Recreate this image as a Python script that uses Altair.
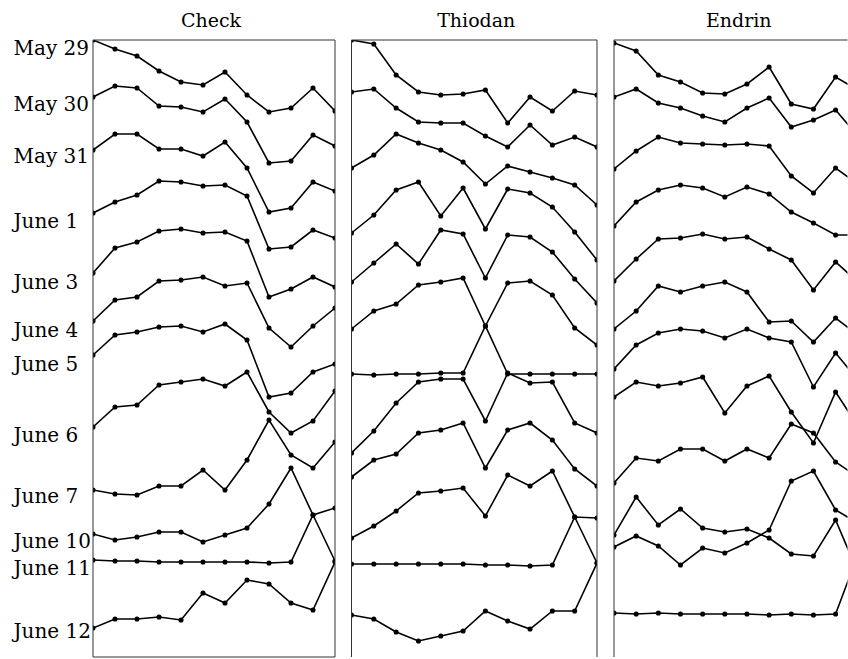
import json
import altair as alt
import pandas as pd

# ---- data (vertical level, larger = lower on the page) ----
DATES = ["May 29", "May 30", "May 31", "June 1", "June 3", "June 4",
         "June 5", "June 6", "June 7", "June 10", "June 11", "June 12"]
LABEL_POS = [40, 96, 148, 213, 274, 322, 356, 427, 488, 533, 560, 623]
PANELS = ["Check", "Thiodan", "Endrin"]
STEPS = list(range(12))

CHECK = [
    [40, 49, 56, 71, 82, 85, 72, 95, 112, 108, 88, 111],
    [97, 86, 88, 106, 107, 112, 99, 122, 163, 161, 135, 146],
    [150, 134, 134, 149, 149, 156, 142, 168, 212, 208, 182, 191],
    [213, 202, 195, 181, 182, 186, 185, 196, 249, 247, 230, 238],
    [273, 248, 242, 231, 229, 233, 232, 241, 297, 289, 277, 287],
    [321, 300, 297, 281, 280, 277, 286, 283, 328, 347, 326, 308],
    [355, 335, 332, 327, 326, 332, 324, 340, 397, 393, 372, 364],
    [427, 407, 405, 385, 382, 379, 386, 372, 412, 433, 421, 391],
    [490, 494, 495, 486, 486, 470, 490, 460, 420, 455, 468, 442],
    [534, 540, 537, 532, 532, 542, 535, 528, 504, 468, 515, 561],
    [560, 561, 561, 562, 562, 562, 562, 562, 563, 562, 515, 508],
    [628, 619, 619, 617, 620, 593, 603, 580, 584, 603, 610, 562],
]

THIODAN = [
    [40, 44, 75, 92, 95, 94, 90, 123, 97, 111, 91, 95],
    [92, 89, 108, 122, 123, 123, 136, 147, 125, 145, 137, 147],
    [168, 155, 134, 143, 150, 162, 184, 166, 172, 178, 185, 205],
    [233, 215, 190, 182, 216, 188, 229, 189, 193, 207, 232, 260],
    [282, 263, 244, 264, 230, 234, 278, 235, 237, 252, 279, 303],
    [329, 311, 304, 285, 282, 278, 326, 283, 281, 295, 328, 345],
    [374, 375, 374, 374, 373, 373, 326, 374, 374, 374, 374, 374],
    [453, 431, 403, 382, 379, 379, 421, 373, 383, 382, 423, 433],
    [477, 460, 454, 433, 430, 423, 468, 430, 423, 440, 469, 486],
    [538, 526, 511, 493, 491, 488, 516, 475, 486, 471, 517, 563],
    [564, 564, 564, 564, 564, 564, 565, 565, 566, 565, 517, 518],
    [615, 619, 632, 641, 636, 631, 611, 621, 629, 611, 611, 563],
]

ENDRIN = [
    [43, 51, 75, 82, 93, 94, 84, 67, 104, 109, 77, 90],
    [97, 89, 103, 108, 116, 122, 108, 98, 127, 120, 110, 136],
    [169, 151, 137, 143, 144, 145, 144, 146, 176, 193, 168, 184],
    [226, 202, 190, 185, 188, 197, 187, 194, 212, 223, 235, 235],
    [281, 259, 239, 238, 234, 239, 237, 249, 260, 290, 262, 282],
    [329, 311, 286, 292, 286, 282, 292, 322, 321, 342, 318, 335],
    [369, 345, 333, 329, 331, 338, 329, 338, 342, 387, 353, 380],
    [397, 382, 386, 383, 377, 413, 386, 376, 412, 443, 392, 426],
    [483, 458, 461, 449, 449, 461, 449, 458, 424, 433, 462, 477],
    [535, 497, 525, 509, 528, 532, 529, 538, 554, 556, 520, 572],
    [547, 536, 546, 565, 548, 553, 543, 530, 481, 471, 510, 523],
    [613, 614, 613, 614, 614, 614, 614, 615, 614, 615, 614, 555],
]

SERIF = "DejaVu Serif"
HEIGHT = 617
STEP_PX = 22.16


def to_frame(rows):
    return pd.DataFrame(
        [{"date": d, "step": s, "level": v}
         for d, row in zip(DATES, rows) for s, v in zip(STEPS, row)]
    )


one = pd.DataFrame({"k": [0]})


def border(side, width):
    r = alt.Chart(one).mark_rule(color="#333333", strokeWidth=1)
    if side == "left":
        return r.encode(x=alt.value(0), y=alt.value(0), y2=alt.value(HEIGHT))
    if side == "right":
        return r.encode(x=alt.value(width), y=alt.value(0), y2=alt.value(HEIGHT))
    if side == "top":
        return r.encode(y=alt.value(0), x=alt.value(0), x2=alt.value(width))
    return r.encode(y=alt.value(HEIGHT), x=alt.value(0), x2=alt.value(width))


label_expr = "{}[indexof({}, datum.value)]".format(
    json.dumps(DATES, ensure_ascii=False), json.dumps(LABEL_POS)
)

date_axis = alt.Axis(
    values=LABEL_POS, labelExpr=label_expr, labelAlign="left", labelBaseline="top",
    labelPadding=80, labelOffset=-2, labelFont=SERIF, labelFontSize=20, labelColor="black",
    ticks=False, domain=False, grid=False, title=None, labelOverlap=False,
)


def panel(rows, title, width, xmax, sides, axis=None, dx=0):
    df = to_frame(rows)
    base = alt.Chart(df).encode(
        x=alt.X("step:Q", scale=alt.Scale(domain=[0, xmax], nice=False, zero=False), axis=None),
        y=alt.Y("level:Q", scale=alt.Scale(domain=[40, 657], reverse=True, nice=False, zero=False),
                axis=axis),
        detail="date:N",
    )
    lines = base.mark_line(color="black", strokeWidth=1.6, clip=True)
    dots = base.mark_circle(color="black", size=26, opacity=1, clip=True)
    frames = [border(s, width) for s in sides]
    head = alt.Chart(one).mark_text(
        text=title, font=SERIF, fontSize=19, color="black", align="center", baseline="alphabetic"
    ).encode(x=alt.value(width / 2 + dx), y=alt.value(-13))
    return alt.layer(lines, dots, *frames, head).properties(width=width, height=HEIGHT)


check = panel(CHECK, PANELS[0], 242, 11, ["left", "top", "right", "bottom"], axis=date_axis, dx=-3)
thiodan = panel(THIODAN, PANELS[1], 245.5, 11, ["left", "top", "right"], dx=2)
endrin = panel(ENDRIN, PANELS[2], 233.5, 233.5 / STEP_PX, ["left", "top"], dx=8)

chart = alt.hconcat(check, thiodan, endrin, spacing=16.5, bounds="flush").resolve_scale(
    x="independent", y="independent"
).properties(
    padding={"left": 13, "top": 12, "right": 0, "bottom": 0},
    background="white",
).configure_view(stroke=None)

chart.save("out.html", embed_options={"renderer": "svg", "actions": False})
